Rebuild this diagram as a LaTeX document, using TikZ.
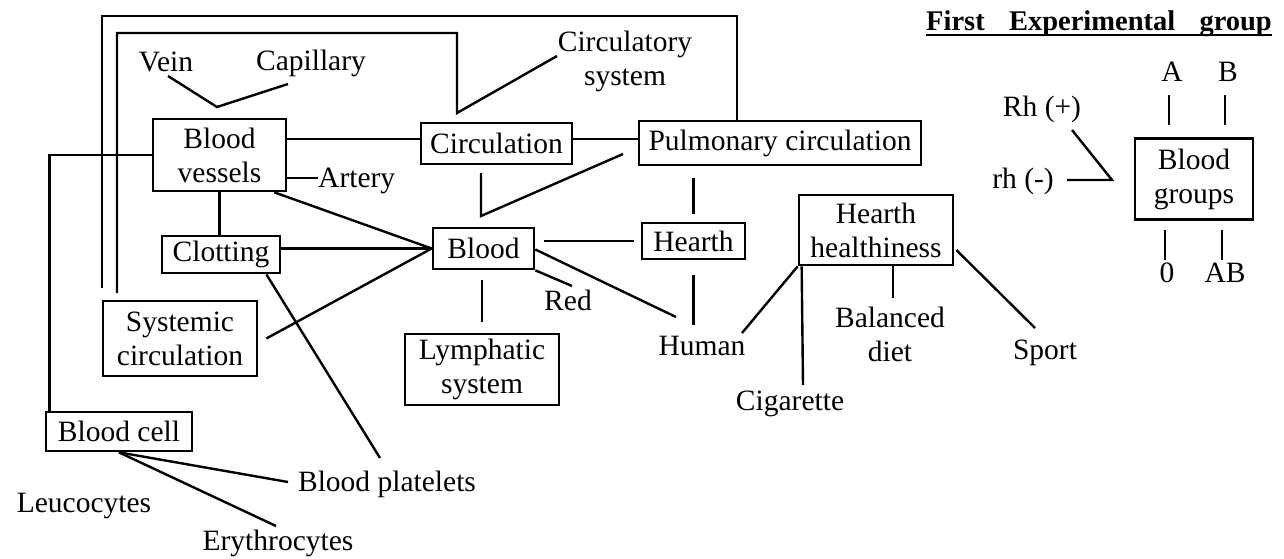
\documentclass[tikz,border=0pt]{standalone}
\usepackage{fontspec}
\setmainfont{Liberation Serif}
\usetikzlibrary{calc}

\begin{document}
\begin{tikzpicture}[x=1pt,y=-1pt,
  every node/.style={font=\fontsize{29.5}{34}\selectfont, inner sep=0pt, align=center},
  box/.style={draw, line width=2.7pt},
  link/.style={line width=2.4pt},
]
\useasboundingbox (0,0) rectangle (1284,559);

% ---------- boxes ----------
\node[box, minimum width=133pt, minimum height=72pt] (bv)    at (219.5,155)  {Blood\\vessels};
\node[box, minimum width=151pt, minimum height=41pt] (circ)  at (496.5,143.5) {Circulation};
\node[box, minimum width=282pt, minimum height=44pt] (pulm)  at (780,143)    {Pulmonary circulation};
\node[box, minimum width=118pt, minimum height=37pt] (clot)  at (221,254.5)  {Clotting};
\node[box, minimum width=101pt, minimum height=41pt] (blood) at (483.5,248.5) {Blood};
\node[box, minimum width=103pt, minimum height=36pt] (hearth) at (693.5,241) {Hearth};
\node[box, minimum width=154pt, minimum height=75pt] (sys)   at (180,338.5)  {Systemic\\circulation};
\node[box, minimum width=154pt, minimum height=71pt] (lymph) at (482,369.5)  {Lymphatic\\system};
\node[box, minimum width=154pt, minimum height=70pt] (hh)    at (876,230)    {Hearth\\healthiness};
\node[box, minimum width=146pt, minimum height=39pt] (cell)  at (119,431.5)  {Blood cell};
\node[box, minimum width=118pt, minimum height=81pt] (bg)    at (1194,179)   {Blood\\groups};

% ---------- plain labels ----------
\node (vein)   at (166,62)  {Vein};
\node (capil)  at (311,63)  {Capillary};
\node (csys)   at (625,61)  {Circulatory\\system};
\node[anchor=west] (artery) at (318,181) {Artery};
\node (red)    at (568,300) {Red};
\node (human)  at (702,346) {Human};
\node (cig)    at (790,404) {Cigarette};
\node (diet)   at (890,334) {Balanced\\diet};
\node (sport)  at (1045,353) {Sport};
\node (plat)   at (387,484) {Blood platelets};
\node (leuco)  at (84,506)  {Leucocytes};
\node (ery)    at (278,543) {Erythrocytes};

\node[anchor=base east, font=\fontsize{28.5}{34}\selectfont\bfseries] (title) at (1272,31)
  {First\hspace{0.6em} Experimental\hspace{0.6em} group};
\draw[line width=2.4pt] ($(title.base west)+(0,4)$) -- ($(title.base east)+(0,4)$);

\node (ga)   at (1172,72)  {A};
\node (gb)   at (1228,72)  {B};
\node (rhp)  at (1042,109) {Rh (+)};
\node (rhm)  at (1023,181) {rh (-)};
\node (g0)   at (1167,273) {0};
\node (gab)  at (1225,273) {AB};

% ---------- helper points ----------
\coordinate (r1) at (0,139);
\coordinate (r2) at (0,178);
\coordinate (o1) at (102,288);
\coordinate (o2) at (737,16);
\coordinate (i1) at (117,293);
\coordinate (i2) at (457,33);
\coordinate (i3) at (457,113);
\coordinate (i4) at (557,56);
\coordinate (v1) at (168,76);
\coordinate (v2) at (217,107);
\coordinate (v3) at (288,84);
\coordinate (p1) at (380,458);
\coordinate (p2) at (288,482);
\coordinate (e1) at (276,526);
\coordinate (k1) at (481,173);
\coordinate (k2) at (481,216);
\coordinate (k3) at (623,154);
\coordinate (d1) at (572,286);
\coordinate (h1) at (676,317);
\coordinate (h2) at (693.5,325);
\coordinate (h3) at (742,333);
\coordinate (c1) at (803,385);
\coordinate (t1) at (893,298);
\coordinate (s1) at (1035,328);
\coordinate (q1) at (1072,130);
\coordinate (q2) at (1112,180);
\coordinate (q3) at (1067,180);

% ---------- connectors ----------
% long frames round the upper left
\draw[link] (o1) |- (o2) -- (o2 |- pulm.north);
\draw[link] (i1) |- (i2) -- (i3) -- (i4);
% vein / capillary fork
\draw[link] (v1) -- (v2) -- (v3);
% blood vessels
\draw[link] (bv.west) -| ($(cell.north west)+(5,0)$);
\draw[link] (bv.east |- r1) -- (circ.west |- r1);
\draw[link] (circ.east |- r1) -- (pulm.west |- r1);
\draw[link] (bv.east |- r2) -- (artery.west |- r2);
\draw[link] ($(bv.south east)+(-13,0)$) -- (blood.west);
\draw[link] (bv.south) -- (bv.south |- clot.north);
% clotting
\draw[link] (clot.east |- blood.west) -- (blood.west);
\draw[link] ($(clot.south east)+(-15,0)$) -- (p1);
% systemic circulation
\draw[link] ($(sys.east)+(8,0)$) -- (blood.west);
% blood cell
\draw[link] (cell.south) -- (p2);
\draw[link] (cell.south) -- (e1);
% circulation bracket to blood
\draw[link] (k1) -- (k2) -- (k3);
% pulmonary -> hearth
\draw[link] ($(pulm.south -| hearth.north)+(0,12)$) -- ($(hearth.north)+(0,-8)$);
% blood
\draw[link] ($(blood.east |- hearth.west)+(9,0)$) -- ($(hearth.west)+(-7,0)$);
\draw[link] (blood.south east) -- (d1);
\draw[link] ($(blood.east)+(0,1)$) -- (h1);
\draw[link] ($(lymph.north |- blood.south)+(0,10)$) -- ($(lymph.north)+(0,-11)$);
% hearth -> human
\draw[link] ($(hearth.south)+(0,15)$) -- (h2);
% hearth healthiness
\draw[link] (hh.south west) -- (h3);
\draw[link] ($(hh.south west)+(4,0)$) -- (c1);
\draw[link] (hh.south -| t1) -- (t1);
\draw[link] ($(hh.east)+(2,20)$) -- (s1);
% blood groups
\draw[link] ($(bg.north)+(-25,-12)$) -- ($(bg.north)+(-25,-42)$);
\draw[link] ($(bg.north)+(31,-12)$) -- ($(bg.north)+(31,-42)$);
\draw[link] ($(bg.south)+(-29,9)$) -- ($(bg.south)+(-29,39)$);
\draw[link] ($(bg.south)+(28,9)$) -- ($(bg.south)+(28,39)$);
\draw[link] (q1) -- (q2) -- (q3);
\end{tikzpicture}
\end{document}
